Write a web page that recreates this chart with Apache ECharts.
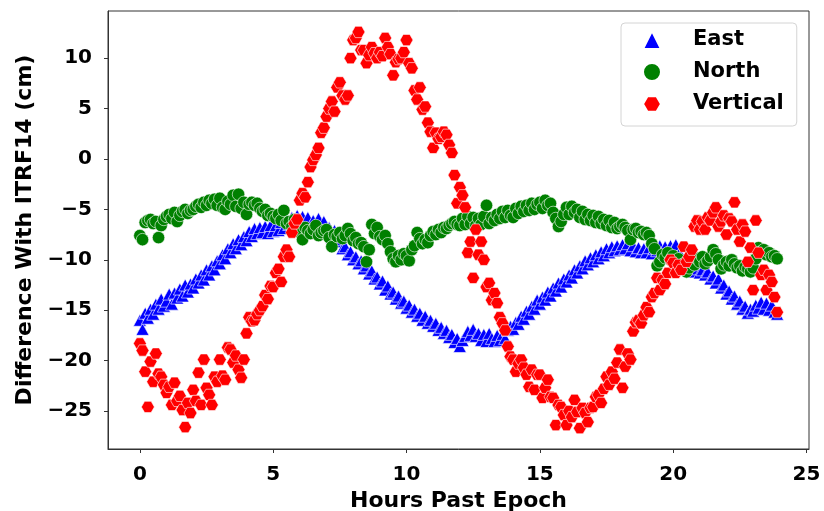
<!DOCTYPE html>
<html>
<head>
<meta charset="utf-8">
<script src="https://cdn.jsdelivr.net/npm/echarts@6/dist/echarts.min.js"></script>
<style>
  html, body { margin: 0; padding: 0; background: #ffffff; }
  #chart { width: 824px; height: 511px; }
</style>
</head>
<body>
<div id="chart"></div>
<script>
// Epoch sampling: one fix every 6 minutes over a day
const SAMPLE_STEP_HOURS = 0.1;
const SAMPLE_COUNT = 240;
const hours = Array.from({ length: SAMPLE_COUNT }, (_, i) => +(i * SAMPLE_STEP_HOURS).toFixed(1));

// Position differences against ITRF14 (cm), ten samples per hour per row
const east = [
  -16.0, -16.9, -15.3, -15.8, -14.9, -15.4, -14.4, -14.9, -13.9, -14.6,
  -14.1, -13.4, -14.4, -13.3, -13.8, -12.9, -13.6, -12.5, -13.2, -12.4,
  -12.8, -11.9, -12.3, -11.5, -12.0, -11.0, -11.5, -10.6, -11.0, -10.1,
  -10.4, -9.5, -9.9, -8.9, -9.3, -8.4, -8.9, -8.0, -8.5, -7.7,
  -8.1, -7.2, -7.7, -6.9, -7.4, -6.8, -7.3, -6.7, -7.4, -6.6,
  -7.2, -6.6, -7.1, -6.3, -6.9, -6.0, -6.5, -5.8, -6.3, -5.6,
  -6.3, -5.7, -6.5, -5.8, -6.6, -6.1, -6.7, -5.9, -6.9, -6.2,
  -7.2, -6.8, -7.8, -7.1, -8.2, -8.0, -8.9, -8.7, -9.5, -9.2,
  -10.0, -9.7, -10.4, -10.1, -10.9, -10.6, -11.4, -11.1, -11.9, -11.7,
  -12.4, -12.1, -13.0, -12.6, -13.4, -13.2, -13.9, -13.6, -14.3, -14.1,
  -14.8, -14.5, -15.2, -14.9, -15.6, -15.3, -16.0, -15.6, -16.3, -16.0,
  -16.6, -16.3, -17.0, -16.7, -17.3, -17.0, -17.7, -17.4, -18.2, -17.8,
  -18.6, -18.0, -17.6, -17.1, -17.5, -16.9, -17.6, -17.3, -18.0, -17.4,
  -18.1, -17.3, -17.8, -18.1, -17.5, -18.0, -17.4, -17.8, -17.0, -16.6,
  -16.9, -16.2, -16.4, -15.6, -15.9, -15.1, -15.4, -14.6, -14.9, -14.0,
  -14.4, -13.7, -14.0, -13.2, -13.6, -12.8, -13.1, -12.3, -12.7, -11.9,
  -12.2, -11.5, -11.8, -11.0, -11.3, -10.6, -10.9, -10.1, -10.5, -9.8,
  -10.2, -9.5, -9.9, -9.2, -9.6, -8.9, -9.3, -8.7, -9.1, -8.6,
  -9.0, -8.5, -8.9, -8.4, -9.1, -8.6, -9.2, -8.8, -9.3, -8.9,
  -9.3, -8.8, -9.4, -8.9, -9.1, -8.6, -9.2, -8.7, -9.3, -8.6,
  -8.9, -8.5, -9.5, -9.6, -10.4, -10.3, -11.0, -10.5, -11.2, -10.9,
  -11.3, -11.0, -11.5, -11.2, -11.9, -11.6, -12.3, -11.9, -12.8, -12.5,
  -13.4, -13.1, -13.9, -13.6, -14.4, -14.1, -14.9, -14.6, -15.3, -14.9,
  -15.1, -14.5, -14.8, -14.2, -14.9, -14.3, -15.0, -14.5, -15.2, -15.4
];

const north = [
  -7.6, -8.0, -6.3, -6.1, -6.0, -6.4, -6.2, -7.8, -6.6, -6.0,
  -5.7, -5.5, -5.9, -5.3, -6.2, -5.6, -5.2, -5.0, -5.4, -5.1,
  -5.0, -4.7, -4.5, -4.8, -4.3, -4.6, -4.1, -4.4, -4.0, -4.6,
  -3.9, -4.8, -5.0, -4.2, -4.5, -3.6, -4.7, -3.5, -4.9, -4.3,
  -5.5, -4.5, -4.3, -4.6, -4.4, -4.9, -5.2, -5.0, -5.6, -5.4,
  -5.7, -5.9, -5.5, -6.1, -5.1, -6.4, -6.2, -6.7, -6.0, -6.9,
  -7.3, -8.0, -6.8, -7.1, -7.4, -7.0, -6.6, -7.6, -7.3, -7.1,
  -7.0, -7.8, -8.7, -7.5, -7.7, -7.3, -7.9, -7.6, -6.9, -7.4,
  -8.1, -7.8, -8.4, -8.3, -8.7, -10.2, -9.0, -6.5, -7.4, -6.8,
  -7.7, -8.0, -7.6, -8.4, -9.2, -9.9, -10.2, -9.6, -10.0, -9.4,
  -9.6, -10.1, -9.0, -8.6, -7.3, -7.9, -8.4, -8.0, -8.3, -7.6,
  -7.2, -7.5, -7.0, -7.3, -6.8, -6.9, -6.6, -6.4, -6.2, -6.5,
  -6.6, -5.9, -6.5, -5.7, -6.4, -5.8, -6.6, -5.9, -6.5, -5.7,
  -4.6, -6.4, -5.8, -6.1, -5.5, -5.9, -5.2, -5.8, -5.1, -5.6,
  -5.8, -4.9, -5.4, -4.7, -5.2, -4.6, -5.1, -4.4, -5.0, -4.5,
  -4.3, -4.9, -4.1, -4.6, -4.4, -5.3, -5.9, -6.7, -6.2, -5.5,
  -4.8, -5.5, -4.7, -5.3, -5.0, -5.8, -5.2, -6.0, -5.5, -6.1,
  -5.6, -6.3, -5.7, -6.4, -6.0, -6.6, -6.1, -6.8, -6.3, -6.9,
  -6.7, -6.5, -6.8, -7.1, -8.0, -7.0, -6.9, -7.3, -7.2, -7.5,
  -7.3, -7.6, -8.4, -8.9, -10.6, -10.2, -9.5, -9.8, -9.3, -10.0,
  -9.6, -10.3, -9.9, -10.7, -10.4, -11.2, -10.8, -10.1, -10.5, -9.9,
  -10.2, -9.7, -10.4, -10.1, -9.7, -9.0, -9.4, -10.0, -10.9, -10.5,
  -10.2, -10.6, -10.0, -10.4, -10.8, -10.6, -11.1, -10.7, -10.9, -11.2,
  -10.8, -9.9, -8.8, -9.2, -9.0, -9.5, -9.3, -9.7, -9.6, -9.9
];

const vertical = [
  -18.3, -19.0, -21.1, -24.6, -20.1, -22.1, -19.3, -21.3, -21.6, -22.4,
  -23.2, -22.6, -24.4, -22.2, -24.0, -23.5, -24.9, -26.6, -24.2, -25.2,
  -22.9, -24.0, -21.2, -24.4, -19.9, -22.7, -23.4, -24.4, -21.6, -22.1,
  -19.9, -21.5, -21.9, -18.7, -18.9, -20.2, -19.5, -20.9, -21.7, -19.9,
  -17.3, -15.7, -16.1, -16.0, -15.4, -15.0, -14.6, -13.5, -13.9, -12.6,
  -12.7, -11.3, -10.9, -12.2, -9.7, -9.0, -9.7, -7.3, -6.4, -6.0,
  -4.1, -3.4, -3.8, -2.3, -0.8, -0.1, 0.4, 1.1, 2.6, 3.1,
  4.2, 5.0, 5.7, 4.7, 7.1, 7.6, 6.3, 5.9, 6.3, 10.0,
  11.8, 12.0, 12.6, 10.8, 10.8, 9.5, 10.3, 11.1, 10.5, 10.0,
  10.6, 10.2, 12.0, 11.1, 10.4, 8.3, 9.6, 9.9, 10.0, 10.6,
  11.8, 9.5, 9.0, 6.8, 5.9, 7.1, 4.9, 5.2, 3.6, 2.7,
  1.1, 2.6, 2.0, 2.2, 2.7, 2.4, 1.4, 0.6, -1.6, -4.4,
  -2.8, -3.6, -4.8, -9.3, -8.2, -11.8, -7.0, -9.5, -8.2, -10.0,
  -12.7, -12.3, -14.0, -13.3, -14.3, -15.7, -16.3, -17.0, -18.6, -19.6,
  -19.9, -21.1, -20.3, -19.9, -20.7, -21.4, -22.6, -20.9, -22.9, -21.4,
  -21.4, -23.7, -22.7, -21.9, -23.6, -23.7, -26.4, -24.4, -24.6, -25.4,
  -26.4, -25.0, -25.6, -23.9, -25.1, -26.7, -24.7, -25.2, -26.1, -24.7,
  -24.6, -23.6, -23.4, -24.2, -22.8, -21.6, -22.4, -21.1, -21.8, -20.2,
  -18.9, -22.7, -20.6, -19.3, -19.9, -17.1, -16.2, -16.0, -16.3, -15.5,
  -14.7, -15.2, -13.7, -13.3, -11.8, -13.0, -12.0, -12.4, -11.3, -10.0,
  -10.3, -11.3, -10.5, -11.0, -8.7, -10.2, -9.7, -9.0, -6.7, -6.1,
  -7.0, -6.2, -7.0, -5.8, -6.1, -5.3, -4.8, -6.7, -6.2, -5.6,
  -7.5, -5.9, -6.2, -4.3, -7.0, -8.2, -6.5, -7.2, -10.2, -8.8,
  -13.0, -6.1, -9.3, -11.5, -11.0, -13.0, -11.5, -12.2, -13.7, -15.2
];

const seriesNames = ['East', 'North', 'Vertical'];
const xTickValues = [0, 5, 10, 15, 20, 25];
const yTickValues = [-25, -20, -15, -10, -5, 0, 5, 10];

const HEXAGON = 'path://M0,50 L25,6.7 L75,6.7 L100,50 L75,93.3 L25,93.3 Z';
const FONT = 'DejaVu Sans';
const AXIS_COLOR = '#333333';

const toPoints = values => values.map((v, i) => [hours[i], v]);
const minusSign = v => String(v).replace('-', '\u2212');

const markerStyle = color => ({
  color: color,
  borderColor: '#ffffff',
  borderWidth: 0.6,
  opacity: 1
});

const chart = echarts.init(document.getElementById('chart'), null, { renderer: 'canvas' });

chart.setOption({
  animation: false,
  backgroundColor: '#ffffff',
  textStyle: { fontFamily: FONT },
  grid: {
    left: 108, top: 11, right: 15, bottom: 62,
    containLabel: false,
    outerBoundsMode: 'none',
    show: true,
    borderColor: AXIS_COLOR,
    borderWidth: 1,
    backgroundColor: 'transparent'
  },
  legend: {
    orient: 'vertical',
    left: 621,
    top: 23,
    padding: [6, 13, 11, 21],
    itemGap: 10,
    itemWidth: 18,
    itemHeight: 18,
    backgroundColor: '#ffffff',
    borderColor: '#d4d4d4',
    borderWidth: 1,
    borderRadius: 4,
    data: [
      { name: seriesNames[0], icon: 'triangle' },
      { name: seriesNames[1], icon: 'circle' },
      { name: seriesNames[2], icon: HEXAGON }
    ],
    textStyle: {
      fontFamily: FONT,
      fontWeight: 'bold',
      fontSize: 21,
      lineHeight: 22,
      color: '#000000',
      padding: [0, 0, 0, 27]
    }
  },
  xAxis: {
    type: 'value',
    min: -1.195,
    max: 25.095,
    name: 'Hours Past Epoch',
    nameLocation: 'middle',
    nameGap: 36,
    nameTextStyle: { fontFamily: FONT, fontWeight: 'bold', fontSize: 22, color: '#000000' },
    axisLine: { show: true, onZero: false, lineStyle: { color: AXIS_COLOR, width: 1 } },
    axisTick: { show: true, length: 4, customValues: xTickValues, lineStyle: { color: AXIS_COLOR } },
    axisLabel: {
      customValues: xTickValues,
      formatter: minusSign,
      margin: 16,
      fontFamily: FONT, fontWeight: 'bold', fontSize: 20, color: '#000000'
    },
    splitLine: { show: false }
  },
  yAxis: {
    type: 'value',
    min: -28.77,
    max: 14.68,
    name: 'Difference With ITRF14 (cm)',
    nameLocation: 'middle',
    nameGap: 72,
    nameRotate: 90,
    nameTextStyle: { fontFamily: FONT, fontWeight: 'bold', fontSize: 22, color: '#000000' },
    axisLine: { show: true, onZero: false, lineStyle: { color: AXIS_COLOR, width: 1 } },
    axisTick: { show: true, length: 4, customValues: yTickValues, lineStyle: { color: AXIS_COLOR } },
    axisLabel: {
      customValues: yTickValues,
      formatter: minusSign,
      margin: 16,
      fontFamily: FONT, fontWeight: 'bold', fontSize: 20, color: '#000000'
    },
    splitLine: { show: false }
  },
  series: [
    {
      name: seriesNames[0],
      type: 'scatter',
      symbol: 'triangle',
      symbolSize: [13, 12],
      data: toPoints(east),
      itemStyle: markerStyle('#0000ff'),
      z: 2
    },
    {
      name: seriesNames[1],
      type: 'scatter',
      symbol: 'circle',
      symbolSize: 12.5,
      data: toPoints(north),
      itemStyle: markerStyle('#008000'),
      z: 3
    },
    {
      name: seriesNames[2],
      type: 'scatter',
      symbol: HEXAGON,
      symbolSize: [13, 11.3],
      data: toPoints(vertical),
      itemStyle: markerStyle('#ff0000'),
      z: 4
    }
  ]
});
</script>
</body>
</html>
